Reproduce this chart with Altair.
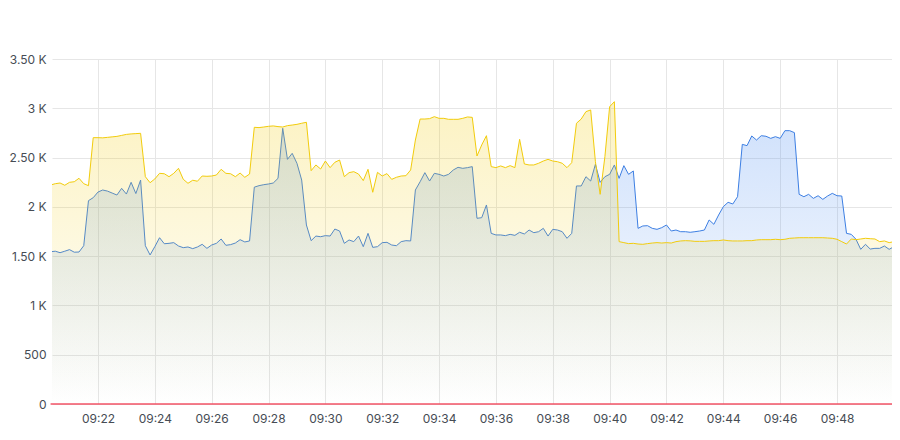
import altair as alt
import pandas as pd

START = "2024-01-01 09:20:20"
STEP_S = 10

BLUE = [
    1545, 1550, 1535, 1550, 1566, 1540, 1542, 1606, 2063, 2093,
    2150, 2171, 2160, 2140, 2120, 2188, 2130, 2249, 2135, 2272,
    1606, 1512, 1596, 1687, 1626, 1630, 1637, 1603, 1586, 1593,
    1576, 1593, 1620, 1579, 1613, 1630, 1674, 1610, 1617, 1633,
    1667, 1644, 1654, 2200, 2215, 2225, 2232, 2242, 2289, 2797,
    2482, 2543, 2442, 2272, 1816, 1657, 1704, 1697, 1708, 1704,
    1775, 1755, 1630, 1664, 1647, 1704, 1596, 1731, 1589, 1596,
    1637, 1640, 1613, 1606, 1647, 1657, 1654, 2171, 2255, 2347,
    2262, 2340, 2330, 2313, 2330, 2374, 2401, 2391, 2398, 2408,
    1884, 1890, 2019, 1731, 1715, 1715, 1708, 1721, 1711, 1742,
    1725, 1765, 1738, 1748, 1782, 1704, 1772, 1765, 1748, 1681,
    1731, 2212, 2212, 2306, 2262, 2432, 2249, 2306, 2330, 2425,
    2289, 2418, 2330, 2364, 1782, 1806, 1809, 1782, 1772, 1789,
    1816, 1755, 1765, 1748, 1748, 1742, 1748, 1755, 1765, 1867,
    1823, 1917, 2002, 2046, 2029, 2103, 2634, 2621, 2719, 2678,
    2722, 2716, 2695, 2712, 2695, 2773, 2773, 2753, 2127, 2103,
    2127, 2086, 2113, 2076, 2110, 2137, 2113, 2110, 1731, 1721,
    1671, 1569, 1620, 1572, 1579, 1579, 1603, 1569, 1596, 1654,
    1664,
]

YELLOW = [
    2222, 2235, 2242, 2219, 2249, 2255, 2290, 2235, 2215, 2702,
    2702, 2700, 2705, 2710, 2715, 2725, 2735, 2740, 2743, 2746,
    2306, 2245, 2283, 2340, 2336, 2306, 2340, 2391, 2280, 2239,
    2270, 2260, 2313, 2310, 2313, 2323, 2381, 2340, 2336, 2306,
    2343, 2300, 2333, 2807, 2804, 2810, 2817, 2821, 2814, 2810,
    2824, 2830, 2837, 2848, 2858, 2367, 2425, 2384, 2465, 2398,
    2452, 2475, 2306, 2347, 2357, 2333, 2266, 2381, 2148, 2350,
    2313, 2337, 2279, 2300, 2313, 2316, 2374, 2678, 2891, 2891,
    2895, 2915, 2898, 2898, 2888, 2888, 2888, 2898, 2912, 2908,
    2516, 2628, 2722, 2408, 2398, 2415, 2398, 2418, 2398, 2685,
    2435, 2425, 2425, 2442, 2465, 2482, 2465, 2458, 2442, 2398,
    2448, 2848, 2891, 2966, 2983, 2458, 2127, 2509, 3016, 3067,
    1647, 1637, 1627, 1630, 1623, 1620, 1627, 1633, 1637, 1633,
    1637, 1633, 1647, 1654, 1657, 1655, 1650, 1650, 1650, 1654,
    1657, 1657, 1664, 1657, 1654, 1654, 1654, 1657, 1657, 1664,
    1667, 1667, 1667, 1671, 1667, 1671, 1681, 1684, 1687, 1687,
    1687, 1687, 1687, 1687, 1684, 1681, 1671, 1647, 1623, 1674,
    1667, 1674, 1681, 1677, 1674, 1647, 1654, 1637, 1647, 1674,
    1681,
]

RED = [0] * len(BLUE)

Y_TICKS = [0, 500, 1000, 1500, 2000, 2500, 3000, 3500]
X_TICK_MINUTES = list(range(22, 51, 2))

times = pd.date_range(START, periods=len(BLUE), freq=f"{STEP_S}s").strftime("%Y-%m-%dT%H:%M:%S")
df = pd.DataFrame({"t": list(times), "blue": BLUE, "yellow": YELLOW, "red": RED})


def dt(h, m, s=0):
    return alt.DateTime(year=2024, month=1, date=1, hours=h, minutes=m, seconds=s)


LABEL_FONT = "Inter"
LABEL_COLOR = "#464c54"
GRID_COLOR = "#e6e6e6"

x_enc = alt.X(
    "t:T",
    scale=alt.Scale(domain=[dt(9, 20, 23), dt(9, 49, 56)]),
    axis=alt.Axis(
        values=[dt(9, m) for m in X_TICK_MINUTES],
        format="%H:%M",
        title=None,
        grid=True,
        gridColor=GRID_COLOR,
        domain=False,
        ticks=False,
        labelPadding=9,
        labelFont=LABEL_FONT,
        labelFontSize=12,
        labelColor=LABEL_COLOR,
        labelOverlap=False,
        labelBound=False,
        labelFlush=False,
    ),
)

y_scale = alt.Scale(domain=[0, 3500], nice=False)
y_axis = alt.Axis(
    values=Y_TICKS,
    title=None,
    grid=True,
    gridColor=GRID_COLOR,
    domain=False,
    ticks=False,
    labelPadding=6,
    labelFont=LABEL_FONT,
    labelFontSize=12,
    labelColor=LABEL_COLOR,
    labelExpr="datum.value >= 1000 ? (datum.value % 1000 == 0 ? format(datum.value/1000, 'd') : format(datum.value/1000, '.2f')) + ' K' : format(datum.value, 'd')",
)


def grad(r, g, b, a):
    return alt.Gradient(
        gradient="linear",
        x1=0, y1=0, x2=0, y2=1,
        stops=[
            alt.GradientStop(offset=0, color=f"rgba({r},{g},{b},{a})"),
            alt.GradientStop(offset=1, color=f"rgba({r},{g},{b},0)"),
        ],
    )


base = alt.Chart(df).encode(x=x_enc)

blue_area = base.mark_area(clip=True, color=grad(87, 148, 242, 0.27)).encode(
    y=alt.Y("blue:Q", scale=y_scale, axis=y_axis)
)
blue_line = base.mark_line(clip=True, color="#3d7fe3", strokeWidth=1).encode(y=alt.Y("blue:Q"))
yellow_area = base.mark_area(clip=True, color=grad(242, 204, 12, 0.25)).encode(y=alt.Y("yellow:Q"))
yellow_line = base.mark_line(clip=True, color="#f2cc0c", strokeWidth=1).encode(y=alt.Y("yellow:Q"))
red_line = base.mark_line(color="#f2495c", strokeWidth=2, opacity=0.7).encode(y=alt.Y("red:Q"))

chart = (
    alt.layer(blue_area, blue_line, yellow_area, yellow_line, red_line)
    .properties(
        width=840,
        height=345,
        autosize=alt.AutoSizeParams(type="none"),
        padding={"left": 44, "top": 51, "right": 0, "bottom": 24},
        background="white",
    )
    .configure_view(stroke=None)
)

chart.save("out.html", embed_options={"renderer": "svg", "actions": False})
